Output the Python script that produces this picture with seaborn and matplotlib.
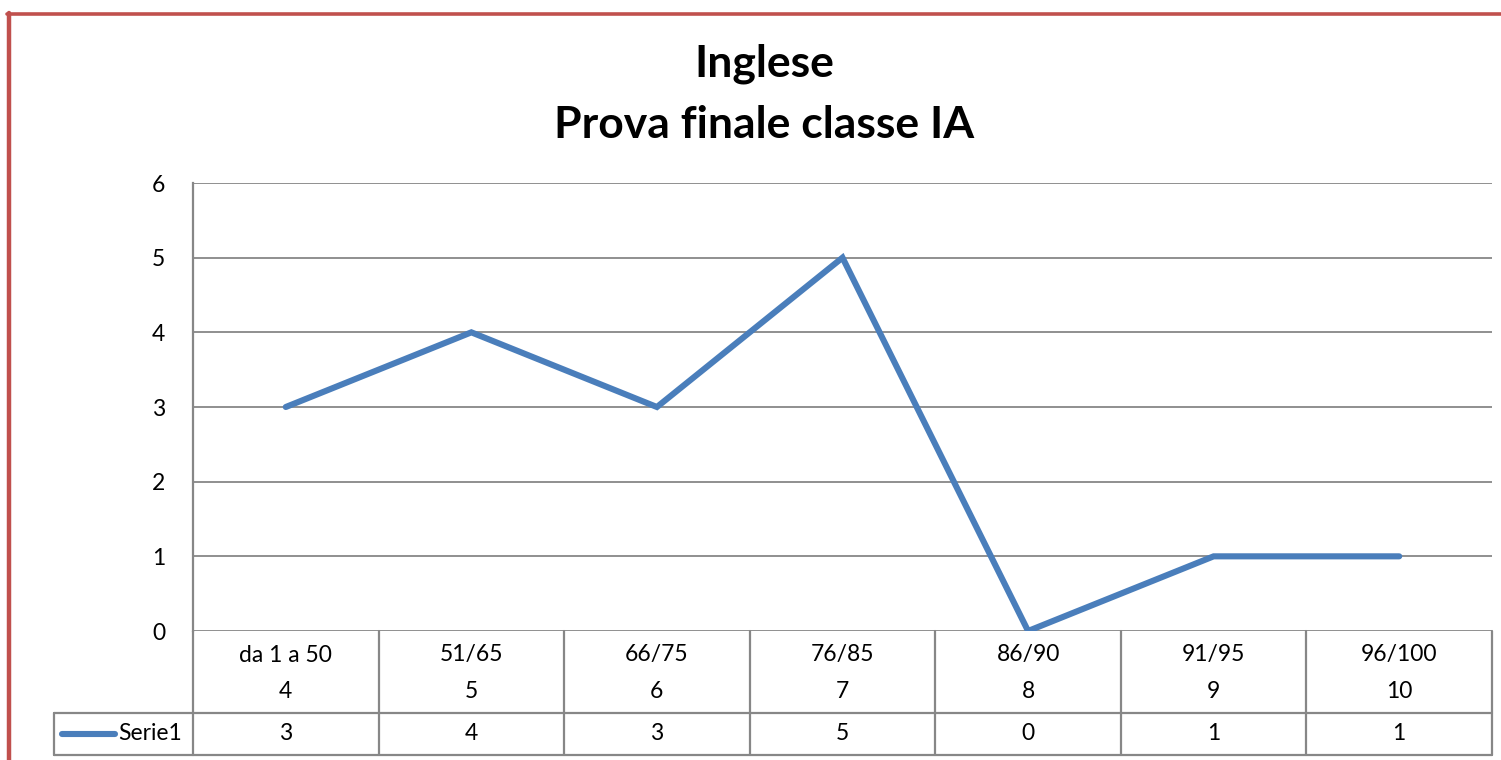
import matplotlib
matplotlib.use('Agg')
import matplotlib.pyplot as plt
import matplotlib.transforms as mtransforms
import seaborn as sns
import pandas as pd

# Chart data
fasce = ['da 1 a 50', '51/65', '66/75', '76/85', '86/90', '91/95', '96/100']
voti = ['4', '5', '6', '7', '8', '9', '10']
serie1 = [3, 4, 3, 5, 0, 1, 1]
serie_name = 'Serie1'
title_lines = ['Inglese', 'Prova finale classe IA']

sns.set_theme(style='white')
plt.rcParams['font.family'] = ['Lato', 'DejaVu Sans']
plt.rcParams['text.color'] = 'black'

W, H = 1501, 760
line_color = '#4A7EBB'
grid_color = '#878787'
border_color = '#C0504D'
fs = 16.5

fig = plt.figure(figsize=(W / 100, H / 100), dpi=100)
fig.patch.set_facecolor('white')

def fx(x):
    return x / W

def fy(y):
    return 1 - y / H

ax = fig.add_axes([fx(193), fy(631), fx(1492 - 193), (631 - 183) / H])

df = pd.DataFrame({'pos': range(len(serie1)), 'val': serie1})
sns.lineplot(data=df, x='pos', y='val', ax=ax, color=line_color,
             linewidth=4.4, solid_joinstyle='miter', zorder=5)

ax.set_xlim(-0.5, len(fasce) - 0.5)
ax.set_ylim(0, 6)
ax.set_yticks(range(0, 7))
ax.set_xticks([])
ax.set_xlabel('')
ax.set_ylabel('')
ax.yaxis.grid(True, color=grid_color, linewidth=1.3)
ax.set_axisbelow(True)
for s in ['top', 'right', 'bottom']:
    ax.spines[s].set_visible(False)
ax.spines['left'].set_color(grid_color)
ax.spines['left'].set_linewidth(1.6)
ax.tick_params(axis='y', length=0, pad=20, labelsize=fs, labelcolor='black')

# Title
fig.text(fx(764), fy(64), title_lines[0], ha='center', va='center',
         fontsize=32, fontweight='bold', color='black')
fig.text(fx(764), fy(125), title_lines[1], ha='center', va='center',
         fontsize=32, fontweight='bold', color='black')

# Data table below the axis
trans = mtransforms.blended_transform_factory(ax.transData, fig.transFigure)
n = len(fasce)
tkw = dict(color=grid_color, linewidth=1.6, clip_on=False)
for i in range(n + 1):
    xb = i - 0.5
    ax.plot([xb, xb], [fy(631), fy(755)], transform=trans, **tkw)
ax.plot([-0.5, n - 0.5], [fy(713), fy(713)], transform=trans, **tkw)
ax.plot([-0.5, n - 0.5], [fy(755), fy(755)], transform=trans, **tkw)
# legend cell
fig.add_artist(plt.Line2D([fx(54), fx(193)], [fy(713), fy(713)], **tkw))
fig.add_artist(plt.Line2D([fx(54), fx(193)], [fy(755), fy(755)], **tkw))
fig.add_artist(plt.Line2D([fx(54), fx(54)], [fy(713), fy(755)], **tkw))
fig.add_artist(plt.Line2D([fx(62), fx(115)], [fy(734), fy(734)],
                          color=line_color, linewidth=4.4, solid_capstyle='round'))
fig.text(fx(118), fy(734), serie_name, ha='left', va='center', fontsize=fs, color='black')

for i in range(n):
    ax.text(i, fy(655), fasce[i], transform=trans, ha='center', va='center',
            fontsize=fs, color='black')
    ax.text(i, fy(692), voti[i], transform=trans, ha='center', va='center',
            fontsize=fs, color='black')
    ax.text(i, fy(734), str(serie1[i]), transform=trans, ha='center', va='center',
            fontsize=fs, color='black')

# Red outer border (top and left)
fig.add_artist(plt.Line2D([fx(7), 1], [fy(14), fy(14)], color=border_color, linewidth=2.6))
fig.add_artist(plt.Line2D([fx(9), fx(9)], [fy(13), 0], color=border_color, linewidth=3.2))

fig.savefig('out.png', dpi=100, facecolor='white')
